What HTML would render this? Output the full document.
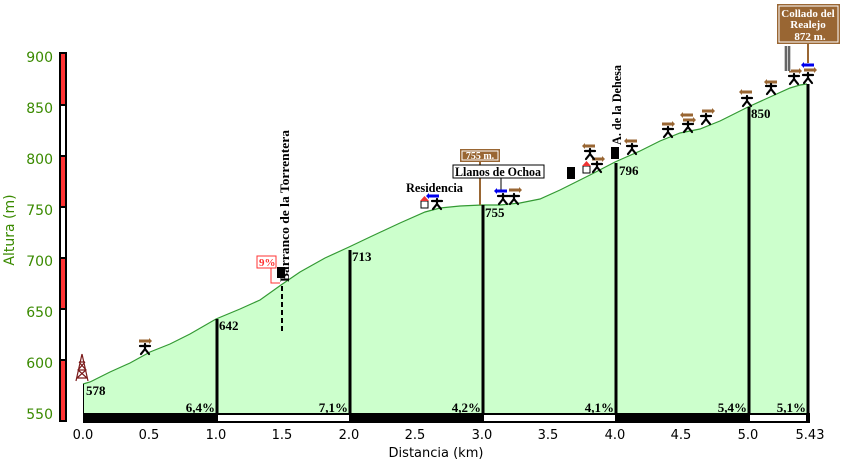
<!DOCTYPE html>
<html><head><meta charset="utf-8"><style>
html,body{margin:0;padding:0;background:#fff;}
svg{display:block;}
.t{font-family:"Liberation Serif",serif;font-weight:bold;font-size:13px;fill:#000;}
.ax{font-family:"DejaVu Sans",sans-serif;font-size:13px;fill:#000;}
.ay{font-family:"DejaVu Sans",sans-serif;font-size:14px;fill:#3a8a00;}
</style></head><body>
<svg width="845" height="462" viewBox="0 0 845 462" xmlns="http://www.w3.org/2000/svg">
<defs>
<g id="ar"><rect x="-6" y="-1.5" width="10" height="3" fill="#996633"/><polygon points="4,-3 7,0 4,3" fill="#996633"/></g>
<g id="al"><rect x="-4" y="-1.5" width="10" height="3" fill="#996633"/><polygon points="-4,-3 -7,0 -4,3" fill="#996633"/></g>
<g id="bl"><rect x="-4" y="-1.5" width="10" height="3" fill="#0000ee"/><polygon points="-4,-3 -7,0 -4,3" fill="#0000ee"/></g>
<g id="st" stroke="#000" stroke-width="2.2" stroke-linecap="round"><path d="M0,-3 L0,2 M-5,-1 L5,-1 M0,2 L-4,7 M0,2 L4,7"/></g>
</defs>
<rect x="59" y="52" width="8" height="370" fill="#000"/>
<rect x="61" y="54" width="4" height="50" fill="#ff3333"/>
<rect x="61" y="106" width="4" height="49" fill="#fff"/>
<rect x="61" y="157" width="4" height="49" fill="#ff3333"/>
<rect x="61" y="208" width="4" height="49" fill="#fff"/>
<rect x="61" y="259" width="4" height="49" fill="#ff3333"/>
<rect x="61" y="310" width="4" height="49" fill="#fff"/>
<rect x="61" y="361" width="4" height="59" fill="#ff3333"/>
<g class="ay" text-anchor="end">
<text x="53" y="62">900</text><text x="53" y="113">850</text><text x="53" y="164">800</text>
<text x="53" y="215">750</text><text x="53" y="266">700</text><text x="53" y="317">650</text>
<text x="53" y="368">600</text><text x="53" y="419">550</text>
</g>
<text class="ay" transform="translate(14,230) rotate(-90)" text-anchor="middle">Altura (m)</text>
<path d="M83,414 L83,384 L90,382 L110,372 L130,363 L150,352 L170,344 L190,334 L216,319 L240,309 L260,300 L281,285 L300,272 L325,258 L349,247 L370,237 L400,223 L425,212 L440,208 L460,206 L482,205 L500,205 L520,203 L540,199 L560,190 L590,175 L615,162 L640,151 L660,141 L680,133 L700,129 L720,121 L748,107 L770,97 L790,88 L800,85 L807,84 L807,414 Z" fill="#ccffcc" stroke="none"/>
<path d="M83,384 L90,382 L110,372 L130,363 L150,352 L170,344 L190,334 L216,319 L240,309 L260,300 L281,285 L300,272 L325,258 L349,247 L370,237 L400,223 L425,212 L440,208 L460,206 L482,205 L500,205 L520,203 L540,199 L560,190 L590,175 L615,162 L640,151 L660,141 L680,133 L700,129 L720,121 L748,107 L770,97 L790,88 L800,85 L807,84" fill="none" stroke="#339933" stroke-width="1.2"/>
<line x1="83.5" y1="384" x2="83.5" y2="414" stroke="#000" stroke-width="1"/>
<g stroke="#000" stroke-width="3">
<line x1="217" y1="319" x2="217" y2="414"/><line x1="350" y1="250" x2="350" y2="414"/>
<line x1="483" y1="205" x2="483" y2="414"/><line x1="616" y1="163" x2="616" y2="414"/>
<line x1="749" y1="107" x2="749" y2="414"/><line x1="808" y1="84" x2="808" y2="414"/>
</g>
<line x1="282" y1="286" x2="282" y2="334" stroke="#000" stroke-width="2" stroke-dasharray="5,3"/>
<rect x="83" y="413" width="727" height="10" fill="#000"/>
<rect x="218" y="415" width="131" height="6" fill="#fff"/>
<rect x="484" y="415" width="131" height="6" fill="#fff"/>
<rect x="750" y="415" width="56" height="6" fill="#fff"/>
<g class="t">
<text x="86" y="395">578</text><text x="219" y="330">642</text><text x="352" y="261">713</text>
<text x="485" y="217">755</text><text x="619" y="175">796</text><text x="751" y="118">850</text>
</g>
<g class="t" text-anchor="end" font-size="12">
<text x="215" y="412">6,4%</text><text x="348" y="412">7,1%</text><text x="481" y="412">4,2%</text>
<text x="614" y="412">4,1%</text><text x="747" y="412">5,4%</text><text x="806" y="412">5,1%</text>
</g>
<g class="ax" text-anchor="middle">
<text x="83" y="439">0.0</text><text x="149" y="439">0.5</text><text x="216" y="439">1.0</text>
<text x="282" y="439">1.5</text><text x="349" y="439">2.0</text><text x="415" y="439">2.5</text>
<text x="482" y="439">3.0</text><text x="548" y="439">3.5</text><text x="615" y="439">4.0</text>
<text x="681" y="439">4.5</text><text x="748" y="439">5.0</text><text x="810" y="439">5.43</text>
<text x="436" y="457">Distancia (km)</text>
</g>
<g stroke="#7a1a1a" stroke-width="1.2" fill="none">
<path d="M82,354 L76,381 M82,354 L88,381 M79,362 L85,362 M78,370 L86,370 M77,378 L87,378 M79,362 L86,370 L77,378 M85,362 L78,370 L87,378"/>
</g>
<text class="t" transform="translate(289,282) rotate(-90)" textLength="152" lengthAdjust="spacingAndGlyphs">Barranco de la Torrentera</text>
<rect x="277" y="267" width="8" height="11" fill="#000"/>
<rect x="257" y="256" width="19" height="12" fill="#fff" stroke="#ff3333"/>
<text x="259" y="266" font-family="Liberation Serif,serif" font-weight="bold" font-size="11" fill="#ff3333">9%</text>
<polyline points="271,268 271,283 280,283" fill="none" stroke="#ff3333"/>
<text class="t" transform="translate(621,145) rotate(-90)" textLength="80" lengthAdjust="spacingAndGlyphs">A. de la Dehesa</text>
<rect x="611" y="147" width="8" height="12" fill="#000"/>
<rect x="567" y="167" width="8" height="12" fill="#000"/>
<line x1="480" y1="162" x2="480" y2="205" stroke="#996633" stroke-width="2"/>
<rect x="460" y="149" width="40" height="13" fill="#996633"/>
<rect x="462" y="151" width="36" height="9" fill="none" stroke="#fff" stroke-width="1"/>
<text x="480" y="159" text-anchor="middle" font-family="Liberation Serif,serif" font-weight="bold" font-size="10" fill="#fff">755 m.</text>
<rect x="453" y="165" width="91" height="13" fill="#fff" stroke="#000"/>
<text class="t" x="498" y="176" text-anchor="middle" textLength="86" lengthAdjust="spacingAndGlyphs">Llanos de Ochoa</text>
<line x1="501" y1="178" x2="501" y2="190" stroke="#000"/>
<text class="t" x="406" y="192" textLength="57" lengthAdjust="spacingAndGlyphs">Residencia</text>
<g><rect x="421" y="201" width="7" height="7" fill="#fff" stroke="#000"/><polygon points="420,201 424.5,196 429,201" fill="#ee3333"/></g>
<g><rect x="583" y="166" width="7" height="7" fill="#fff" stroke="#000"/><polygon points="582,166 586.5,161 591,166" fill="#ee3333"/></g>
<use href="#ar" x="145" y="341"/><use href="#bl" x="433" y="196"/><use href="#bl" x="501" y="191"/>
<use href="#ar" x="515" y="190"/><use href="#al" x="589" y="146"/><use href="#ar" x="598" y="159"/>
<use href="#al" x="631" y="141"/><use href="#ar" x="668" y="124"/><use href="#al" x="687" y="115"/>
<use href="#ar" x="689" y="120"/><use href="#ar" x="708" y="111"/><use href="#al" x="746" y="92"/>
<use href="#al" x="771" y="82"/><use href="#ar" x="795" y="71"/><use href="#ar" x="810" y="70"/>
<use href="#bl" x="808" y="65"/>
<use href="#st" x="145" y="347"/><use href="#st" x="437" y="202"/><use href="#st" x="503" y="197"/><use href="#st" x="514" y="197"/>
<use href="#st" x="590" y="152"/><use href="#st" x="597" y="165"/><use href="#st" x="632" y="147"/><use href="#st" x="668" y="130"/>
<use href="#st" x="688" y="125"/><use href="#st" x="706" y="117"/><use href="#st" x="747" y="99"/><use href="#st" x="771" y="87"/>
<use href="#st" x="794" y="77"/><use href="#st" x="808" y="76"/>
<rect x="784" y="46" width="7" height="25" fill="#ccc"/>
<line x1="786" y1="46" x2="786" y2="71" stroke="#000"/><line x1="789" y1="46" x2="789" y2="71" stroke="#000"/>
<line x1="808" y1="43" x2="808" y2="63" stroke="#996633" stroke-width="2"/>
<rect x="777" y="4" width="63" height="40" fill="#996633"/>
<rect x="779" y="6" width="59" height="36" fill="none" stroke="#fff"/>
<g font-family="Liberation Serif,serif" font-weight="bold" font-size="11" fill="#fff" text-anchor="middle">
<text x="808" y="17">Collado del</text><text x="808" y="28">Realejo</text><text x="810" y="40">872 m.</text>
</g>
</svg>
</body></html>
